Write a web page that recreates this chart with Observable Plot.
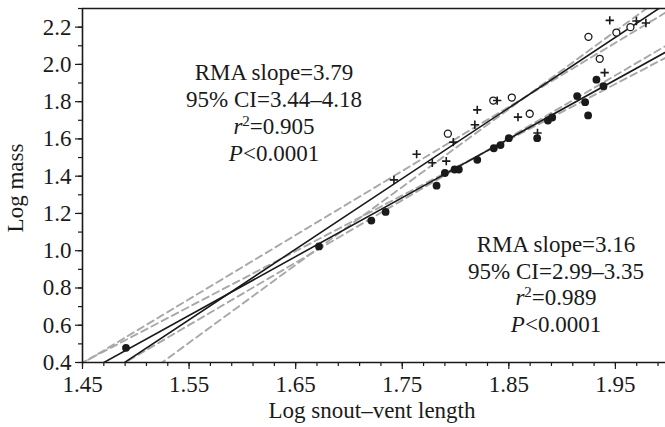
<!DOCTYPE html>
<html><head><meta charset="utf-8">
<script src="https://cdn.jsdelivr.net/npm/d3@7"></script>
<script src="https://cdn.jsdelivr.net/npm/@observablehq/plot@0.6"></script>
<style>
body{margin:0;background:#fff;}
svg{display:block;}
</style></head><body><div id="chart"></div>
<script>
// Filled circles (lower group)
const filledX = [1.4908,1.6719,1.7210,1.7344,1.7822,1.7900,1.7991,1.8031,1.8204,1.8359,1.8422,1.8500,1.8766,1.8867,1.8907,1.9141,1.9216,1.9244,1.9322,1.9388];
const filledY = [0.479,1.023,1.162,1.208,1.349,1.417,1.436,1.436,1.488,1.550,1.567,1.604,1.604,1.699,1.715,1.830,1.797,1.726,1.918,1.883];
// Open circles (upper group)
const openX = [1.7928,1.8354,1.8528,1.8696,1.9247,1.9353,1.9509,1.9641];
const openY = [1.628,1.806,1.822,1.735,2.148,2.030,2.171,2.200];
// Crosses (upper group)
const crossX = [1.7422,1.7635,1.7782,1.7913,1.7979,1.8181,1.8204,1.8391,1.8586,1.8769,1.9399,1.9447,1.9697,1.9786];
const crossY = [1.380,1.518,1.472,1.481,1.583,1.676,1.756,1.806,1.717,1.632,1.956,2.236,2.233,2.222];

// RMA fits
const groups = ["upper","lower"];
const rmaSlope = [3.79, 3.16];
const ciLow = [3.44, 2.99];
const ciHigh = [4.18, 3.35];
const centroidX = [1.866, 1.821];
const centroidY = [1.827, 1.509];
const r2Text = ["0.905", "0.989"];
const pText = ["0.0001", "0.0001"];

const xTicks = [1.45,1.55,1.65,1.75,1.85,1.95];
const yTicks = [0.4,0.6,0.8,1.0,1.2,1.4,1.6,1.8,2.0,2.2];
const xMinor = d3.range(0, 28).map(i => +(1.45 + i*0.02).toFixed(2));
const yMinor = d3.range(0, 20).map(i => +(0.4 + i*0.1).toFixed(1));

const lineRows = [];
groups.forEach((g, i) => {
  [["rma", rmaSlope[i]], ["lo", ciLow[i]], ["hi", ciHigh[i]]].forEach(([k, s]) => {
    for (const x of [1.40, 2.05]) lineRows.push({key: g + k, kind: k, x, y: centroidY[i] + s * (x - centroidX[i])});
  });
});
const rows = (xs, ys) => xs.map((x, i) => ({x, y: ys[i]}));

const ink = "#1a1a1a";
const FS = 23;
const plot = Plot.plot({
  width: 665, height: 427,
  marginLeft: 82, marginRight: 0, marginTop: 8, marginBottom: 65,
  style: {fontFamily: "'Liberation Serif', serif", fontSize: FS + "px", color: ink, background: "#fff"},
  x: {domain: [1.45, 1.997], axis: null, label: null},
  y: {domain: [0.4, 2.3], axis: null, label: null},
  marks: [
    Plot.line(lineRows.filter(d => d.kind !== "rma"), {x: "x", y: "y", z: "key", stroke: "#a8a8a8", strokeWidth: 1.9, strokeDasharray: "7,4.5", clip: true}),
    Plot.line(lineRows.filter(d => d.kind === "rma"), {x: "x", y: "y", z: "key", stroke: ink, strokeWidth: 1.6, clip: true}),
    Plot.dot(rows(filledX, filledY), {x: "x", y: "y", r: 3.9, fill: ink, stroke: "none"}),
    Plot.dot(rows(openX, openY), {x: "x", y: "y", r: 3.5, fill: "#fff", stroke: ink, strokeWidth: 1.3}),
    Plot.dot(rows(crossX, crossY), {x: "x", y: "y", symbol: "plus", r: 2.8, stroke: ink, strokeWidth: 1.6}),
    Plot.axisX(xMinor, {tickSize: 4, tickFormat: () => "", stroke: ink, strokeWidth: 1.2}),
    Plot.axisX(xTicks, {tickSize: 7, tickPadding: 6, tickFormat: d3.format(".2f"), stroke: ink, strokeWidth: 1.2, fill: ink}),
    Plot.axisY(yMinor, {tickSize: 4, tickFormat: () => "", stroke: ink, strokeWidth: 1.2}),
    Plot.axisY(yTicks, {tickSize: 7, tickPadding: 4, tickFormat: d3.format(".1f"), stroke: ink, strokeWidth: 1.2, fill: ink}),
    Plot.ruleX([1.45], {stroke: ink, strokeWidth: 1.6}),
    Plot.ruleY([0.4], {stroke: ink, strokeWidth: 1.6}),
    Plot.ruleY([2.3], {stroke: ink, strokeWidth: 1.6})
  ]
});
document.getElementById("chart").appendChild(plot);

const svg = d3.select(plot);
const font = "'Liberation Serif', serif";
const blocks = [
  {i: 0, cx: 274, base: [80, 107, 134, 161]},
  {i: 1, cx: 556, base: [252, 279, 305, 332]}
];
blocks.forEach(({i, cx, base}) => {
  const g = svg.append("g").attr("font-family", font).attr("font-size", FS).attr("fill", ink).attr("text-anchor", "middle");
  g.append("text").attr("x", cx).attr("y", base[0]).text(`RMA slope=${rmaSlope[i].toFixed(2)}`);
  g.append("text").attr("x", cx).attr("y", base[1]).text(`95% CI=${ciLow[i].toFixed(2)}–${ciHigh[i].toFixed(2)}`);
  const t3 = g.append("text").attr("x", cx).attr("y", base[2]);
  t3.append("tspan").attr("font-style", "italic").text("r");
  t3.append("tspan").attr("font-size", 15).attr("dy", -8).text("2");
  t3.append("tspan").attr("dy", 8).text(`=${r2Text[i]}`);
  const t4 = g.append("text").attr("x", cx).attr("y", base[3]);
  t4.append("tspan").attr("font-style", "italic").text("P");
  t4.append("tspan").text(`<${pText[i]}`);
});
svg.append("text").attr("x", 372).attr("y", 418).attr("text-anchor", "middle")
  .attr("font-family", font).attr("font-size", FS).attr("fill", ink).text("Log snout–vent length");
svg.append("text").attr("transform", "translate(23,188) rotate(-90)").attr("text-anchor", "middle")
  .attr("font-family", font).attr("font-size", FS).attr("fill", ink).text("Log mass");
</script></body></html>
